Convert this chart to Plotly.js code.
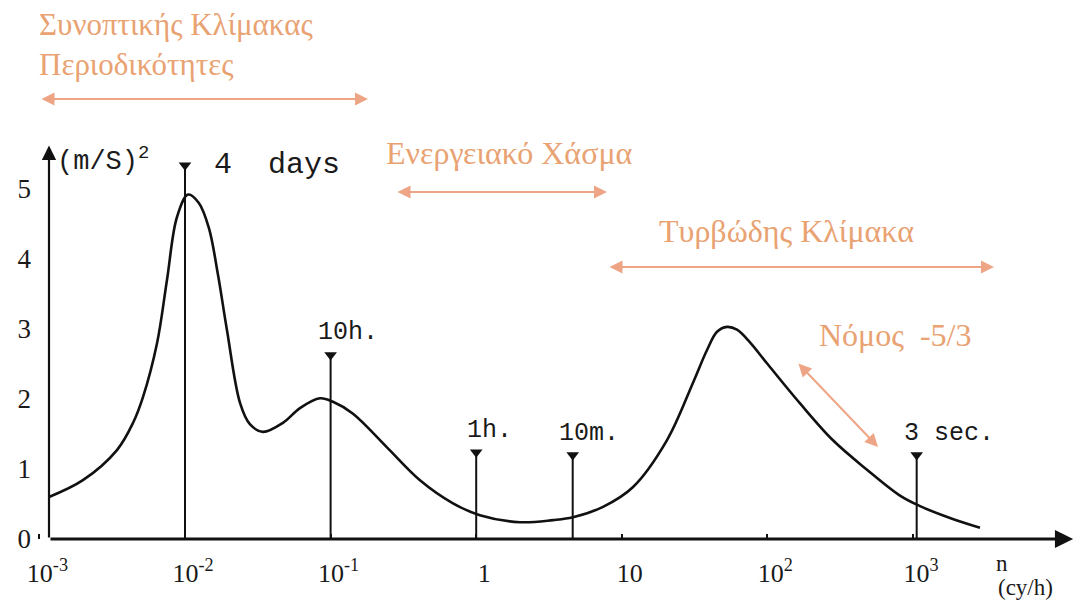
<!DOCTYPE html>
<html>
<head>
<meta charset="utf-8">
<script src="https://cdn.plot.ly/plotly-3.0.1.min.js"></script>
<style>
  html, body { margin: 0; padding: 0; background: #fff; }
  #chart { width: 1082px; height: 601px; }
</style>
</head>
<body>
<div id="chart"></div>
<script>
// Wind-speed power spectrum (Van der Hoven type): energy vs frequency n (cycles/hour)
const freq = [0.001164, 0.00199, 0.00341, 0.00440, 0.00515, 0.00643, 0.00752, 0.00881,
              0.0105, 0.01245, 0.01460, 0.01686, 0.0194, 0.0239, 0.0279, 0.0343,
              0.0471, 0.0616, 0.0846, 0.1038, 0.1425, 0.2438, 0.411, 0.693,
              1.06, 2.0, 3.37, 4.62, 7.43, 11.9, 20.4, 30.8,
              38.5, 45.1, 52.8, 61.8, 75.9, 99.3, 167, 282,
              483, 814, 1117, 1795, 2884];
const power = [0.60, 0.84, 1.27, 1.66, 2.03, 2.80, 3.70, 4.60,
               4.92, 4.80, 4.44, 3.77, 2.99, 1.94, 1.64, 1.53,
               1.66, 1.87, 2.01, 1.96, 1.79, 1.31, 0.84, 0.51,
               0.34, 0.24, 0.27, 0.31, 0.46, 0.74, 1.41, 2.23,
               2.70, 2.96, 3.03, 2.99, 2.81, 2.51, 1.94, 1.41,
               0.99, 0.62, 0.47, 0.30, 0.16];

// Characteristic periods marked on the spectrum
const periodLabels = ['4  days', '10h.', '1h.', '10m.', '3 sec.'];
const periodFreq = [0.01, 0.1, 1, 4.6, 1060];
const periodTop = [5.34, 2.63, 1.24, 1.2, 1.2];

// Axis ticks
const xTickVals = [0.001, 0.01, 0.1, 1, 10, 100, 1000];
const xTickText = ['10<sup>-3</sup>', '10<sup>-2</sup>', '10<sup>-1</sup>', '1', '10', '10<sup>2</sup>', '10<sup>3</sup>'];
const yTickVals = [0, 1, 2, 3, 4, 5];
const yTickText = ['0', '1', '2', '3', '4', '5'];

// Scale regions (Greek captions)
const regionLabels = ['Συνοπτικής Κλίμακας<br>Περιοδικότητες', 'Ενεργειακό Χάσμα', 'Τυρβώδης Κλίμακα', 'Νόμος  -5/3'];
const yUnitLabel = '(m/S)<sup>2</sup>';
const xUnitLabels = ['n', '(cy/h)'];

// ---- page geometry (pixels) ----
const W = 1082, H = 601;
const PL = 36, PR = 1075, PT = 145, PB = 539;
const DEC = 145.6;                 // pixels per decade
const X_AT_1E2 = 185;              // pixel of n = 10^-2
const xr0 = -2 + (PL - X_AT_1E2) / DEC;
const xr1 = -2 + (PR - X_AT_1E2) / DEC;
const yr1 = (PB - PT) / 70;

const px = p => (p - PL) / (PR - PL);
const py = p => (PB - p) / (PB - PT);

const ORANGE = '#E9A272';
const ARROW = '#EDA585';
const serif = 'Liberation Serif, Times New Roman, serif';
const mono = 'Liberation Mono, DejaVu Sans Mono, monospace';

const traces = [
  {
    x: freq, y: power, type: 'scatter', mode: 'lines',
    line: { color: '#111', width: 2.6, shape: 'spline', smoothing: 1 },
    hoverinfo: 'x+y', showlegend: false
  },
  {
    x: periodFreq.flatMap(f => [f, f, null]),
    y: periodTop.flatMap(t => [0, t, null]),
    type: 'scatter', mode: 'lines',
    line: { color: '#111', width: 2 },
    hoverinfo: 'skip', showlegend: false
  },
  {
    x: periodFreq, y: periodTop, type: 'scatter', mode: 'markers',
    marker: { symbol: 'triangle-down', size: 11, color: '#111' },
    hoverinfo: 'skip', showlegend: false
  }
];

const annotations = [];

// axes drawn as arrows starting at the origin of the curve
annotations.push({
  x: 4.1, y: 0, xref: 'x', yref: 'y',
  ax: Math.log10(freq[0]), ay: 0, axref: 'x', ayref: 'y',
  text: '', showarrow: true, arrowhead: 2, arrowsize: 1.3, arrowwidth: 2.8, arrowcolor: '#111'
});
annotations.push({
  x: Math.log10(freq[0]), y: 5.62, xref: 'x', yref: 'y',
  ax: Math.log10(freq[0]), ay: 0, axref: 'x', ayref: 'y',
  text: '', showarrow: true, arrowhead: 2, arrowsize: 1.3, arrowwidth: 2.2, arrowcolor: '#111'
});

// period labels
const labelShift = [[27, 0], [-15, 22], [-11, 22], [-16, 22], [-15, 22]];
periodLabels.forEach((t, i) => {
  annotations.push({
    x: Math.log10(periodFreq[i]), y: periodTop[i], xref: 'x', yref: 'y',
    text: t, showarrow: false, xanchor: 'left', yanchor: 'middle',
    xshift: labelShift[i][0], yshift: labelShift[i][1],
    font: { family: mono, size: i === 0 ? 30 : 25, color: '#1a1a1a' }
  });
});

// unit labels
annotations.push({
  x: px(55), y: py(160), xref: 'paper', yref: 'paper', xanchor: 'left', yanchor: 'middle',
  text: yUnitLabel, showarrow: false, font: { family: mono, size: 27, color: '#1a1a1a' }
});
annotations.push({
  x: px(1002), y: py(563), xref: 'paper', yref: 'paper', xanchor: 'center', yanchor: 'middle',
  text: xUnitLabels[0], showarrow: false, font: { family: serif, size: 23, color: '#1a1a1a' }
});
annotations.push({
  x: px(996), y: py(587), xref: 'paper', yref: 'paper', xanchor: 'left', yanchor: 'middle',
  text: xUnitLabels[1], showarrow: false, font: { family: serif, size: 23, color: '#1a1a1a' }
});

// region captions: [left x, centre y, font size]
const regionPos = [[37, 44, 31], [384, 153, 32], [657, 231, 32], [817, 335, 32]];
regionLabels.forEach((t, i) => {
  annotations.push({
    x: px(regionPos[i][0]), y: py(regionPos[i][1]), xref: 'paper', yref: 'paper',
    xanchor: 'left', yanchor: 'middle', align: 'left',
    text: t, showarrow: false,
    font: { family: serif, size: regionPos[i][2], color: ORANGE }
  });
});

// region double arrows: [head x, head y, tail x, tail y]
const regionArrows = [[368, 99, 40, 99], [607, 192, 396, 192], [994, 267, 608, 267], [878, 447, 797, 362]];
regionArrows.forEach(a => {
  annotations.push({
    x: px(a[0]), y: py(a[1]), xref: 'paper', yref: 'paper',
    ax: a[2] - a[0], ay: a[3] - a[1],
    text: '', showarrow: true, arrowside: 'end+start',
    arrowhead: 2, startarrowhead: 2, arrowsize: 1.3, startarrowsize: 1.3,
    arrowwidth: 2, arrowcolor: ARROW
  });
});

const layout = {
  width: W, height: H,
  margin: { l: PL, r: W - PR, t: PT, b: H - PB, pad: 0 },
  paper_bgcolor: '#fff', plot_bgcolor: '#fff',
  showlegend: false,
  xaxis: {
    type: 'log', range: [xr0, xr1],
    tickmode: 'array', tickvals: xTickVals, ticktext: xTickText,
    ticks: 'inside', ticklen: 5, tickwidth: 2, tickcolor: '#111',
    ticklabelstandoff: 16, ticklabelshift: 8,
    showgrid: false, zeroline: false, showline: false,
    tickfont: { family: serif, size: 26, color: '#1a1a1a' }
  },
  yaxis: {
    range: [0, yr1],
    tickmode: 'array', tickvals: yTickVals, ticktext: yTickText,
    ticks: '', ticklabelstandoff: 4, showgrid: false, zeroline: false, showline: false,
    tickfont: { family: serif, size: 27, color: '#1a1a1a' }
  },
  annotations: annotations
};

Plotly.newPlot('chart', traces, layout, { displayModeBar: false, staticPlot: true });
</script>
</body>
</html>
